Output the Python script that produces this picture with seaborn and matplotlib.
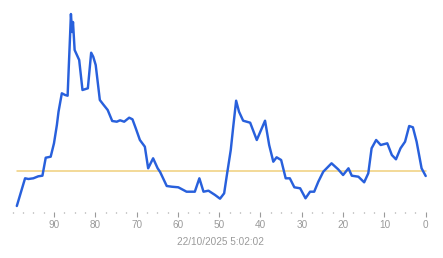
import matplotlib
matplotlib.use("Agg")
import matplotlib.pyplot as plt
import seaborn as sns
import numpy as np
import pandas as pd
from matplotlib.ticker import MultipleLocator

# Data (x = seconds/units ago, y = value)
x_vals = [99.0, 97.0, 96.2, 95.0, 93.8, 92.8, 92.0, 90.8, 90.0, 89.3,
          88.9, 88.1, 87.3, 86.7, 86.4, 86.1, 85.9, 85.6, 85.4, 85.0,
          83.9, 83.1, 81.8, 81.0, 80.5, 79.9, 78.9, 78.1, 77.0, 75.9,
          74.8, 74.0, 73.0, 71.8, 71.0, 70.2, 69.2, 68.0, 67.2, 66.0,
          64.9, 64.3, 62.7, 61.5, 59.9, 57.9, 55.9, 54.8, 53.8, 52.6,
          51.0, 49.8, 48.8, 48.2, 47.2, 46.6, 45.9, 45.2, 44.2, 42.5,
          40.9, 38.9, 37.9, 36.9, 36.1, 35.0, 33.9, 32.9, 31.8, 30.4,
          29.1, 28.0, 27.0, 26.0, 24.8, 22.8, 21.2, 20.0, 18.7, 17.9,
          16.3, 14.9, 13.9, 13.1, 12.0, 10.9, 9.3, 8.2, 7.2, 6.1,
          5.0, 4.0, 3.1, 2.2, 1.0, 0.0]
y_vals = [14, 41.7, 41, 41.7, 43.7, 44.3, 62.3, 63.3, 76.7, 95,
          108.3, 126.7, 125, 124.3, 155, 185, 206, 188, 198, 170,
          160, 130, 131.7, 167.3, 163.3, 155, 120, 115.7, 110, 99,
          98.3, 99.7, 98.3, 102.3, 100.7, 91.7, 80, 73.3, 51.7, 61.7,
          51.7, 48, 34, 33.3, 32.7, 28.3, 28.3, 41.7, 28.3, 29.3,
          25, 21.3, 26.7, 43.3, 70, 93.3, 119.3, 108.3, 99.3, 97.3,
          80, 99.3, 75, 58.3, 62.7, 60, 41.7, 41.7, 32.7, 31.7,
          21.7, 28.3, 28.3, 38.3, 48.3, 56.7, 50.7, 45, 51.7, 44.3,
          43.3, 37.7, 46.7, 71.7, 80, 75, 76.7, 65, 60.7, 71.7,
          78.3, 94, 92.7, 78.3, 51.7, 44]
ref_level = 49.3
tick_values = [0, 10, 20, 30, 40, 50, 60, 70, 80, 90]
tick_labels = [str(t) for t in tick_values]
x_title = "22/10/2025 5:02:02"

df = pd.DataFrame({"x": x_vals, "y": y_vals})
ref_df = pd.DataFrame({"x": [max(x_vals), min(x_vals)], "y": [ref_level, ref_level]})

sns.set_style("white")
plt.rcParams["font.family"] = ["Liberation Sans", "DejaVu Sans"]

W, H = 443, 258
fig = plt.figure(figsize=(W / 100, H / 100), dpi=100)
ax = fig.add_axes([10 / W, 1 - 212 / H, 420 / W, 212 / H])

sns.lineplot(data=ref_df, x="x", y="y", ax=ax, color="#f0cf7c", linewidth=1.1,
             estimator=None)
sns.lineplot(data=df, x="x", y="y", ax=ax, color="#2860dc", linewidth=1.75,
             estimator=None, sort=False, solid_joinstyle="round")

ax.set_xlim(100.65, -1.04)
ax.set_ylim(8, 220)

for s in ax.spines.values():
    s.set_visible(False)
ax.set_yticks([])
ax.set_ylabel("")
ax.set_xticks(tick_values)
ax.set_xticklabels(tick_labels)
ax.xaxis.set_minor_locator(MultipleLocator(2.5))
ax.tick_params(axis="x", which="major", length=3.8, width=0.8, color="#9a9a9a",
               labelsize=7.2, labelcolor="#9a9a9a", pad=2.0, bottom=True)
ax.tick_params(axis="x", which="minor", length=1.0, width=0.9, color="#9a9a9a",
               bottom=True)
ax.set_xlabel(x_title, fontsize=7.2, color="#9a9a9a")
ax.xaxis.set_label_coords(0.5, (212 - 241.7) / 212)
ax.xaxis.label.set_va("center")

fig.savefig("out.png", dpi=100)
